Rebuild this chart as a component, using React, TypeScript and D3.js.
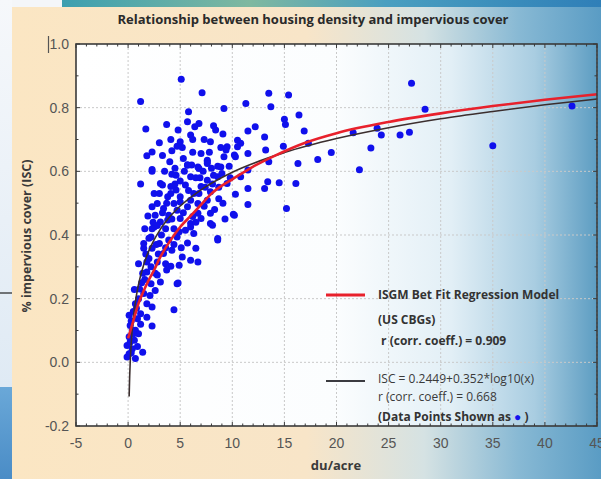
import React from "react";
import * as d3 from "d3";

const W = 601;
const H = 479;

const title = "Relationship between housing density and impervious cover";
const xLabel = "du/acre";
const yLabel = "% impervious cover (ISC)";

const xTicks = [-5, 0, 5, 10, 15, 20, 25, 30, 35, 40, 45];
const yTicks = [-0.2, 0.0, 0.2, 0.4, 0.6, 0.8, 1.0];

// census block groups: [du/acre, impervious fraction]
const points: [number, number][] = [
  [5.1, 0.889], [1.2, 0.819], [7.1, 0.847], [9.2, 0.797], [5.8, 0.787], [5.7, 0.756],
  [3.7, 0.747], [6.8, 0.75], [1.7, 0.733], [8.2, 0.743], [8.4, 0.73], [6.0, 0.714],
  [9.1, 0.717], [6.2, 0.7], [5.0, 0.693], [7.3, 0.7], [7.9, 0.693], [4.7, 0.679],
  [5.2, 0.675], [4.2, 0.665], [2.3, 0.661], [1.8, 0.649], [7.0, 0.656], [8.9, 0.675],
  [9.4, 0.667], [7.6, 0.635], [5.7, 0.621], [6.7, 0.614], [8.6, 0.616], [9.7, 0.616],
  [2.3, 0.606], [10.5, 0.698], [10.3, 0.646], [9.2, 0.646],
  [11.3, 0.813], [13.5, 0.845], [15.4, 0.84], [13.7, 0.803], [15.0, 0.764], [15.1, 0.747],
  [16.4, 0.777], [16.9, 0.727], [12.2, 0.74], [11.5, 0.727], [13.1, 0.708], [14.9, 0.679],
  [13.2, 0.667], [17.3, 0.688], [18.2, 0.637], [19.5, 0.659], [16.3, 0.625], [13.5, 0.63],
  [11.5, 0.656], [10.8, 0.688], [14.5, 0.564], [13.1, 0.546], [16.1, 0.562], [13.4, 0.567],
  [11.5, 0.546], [11.5, 0.496], [15.2, 0.483], [10.1, 0.465], [11.5, 0.604], [10.3, 0.528],
  [1.2, 0.56], [10.8, 0.583],
  [27.2, 0.877], [28.5, 0.795], [23.9, 0.735], [24.3, 0.714], [26.1, 0.714], [27.0, 0.723],
  [23.3, 0.673], [35.0, 0.68], [42.6, 0.805], [22.2, 0.605], [21.6, 0.721],
  [9.5, 0.677], [10.5, 0.677], [10.2, 0.651], [7.6, 0.63], [4.6, 0.588], [6.0, 0.583],
  [7.6, 0.572], [8.6, 0.583], [9.5, 0.562], [7.9, 0.536], [7.0, 0.552], [4.1, 0.552],
  [3.1, 0.562], [5.0, 0.52], [6.0, 0.509], [8.7, 0.514], [4.7, 0.478], [6.7, 0.468],
  [7.9, 0.436], [6.0, 0.425], [3.8, 0.447], [2.5, 0.425], [8.6, 0.389],
  [2.3, 0.6], [3.3, 0.557], [4.2, 0.591], [5.7, 0.619], [6.8, 0.609], [7.6, 0.625],
  [8.9, 0.614], [4.6, 0.541], [5.5, 0.557], [6.3, 0.53], [8.2, 0.588], [9.0, 0.593],
  [3.0, 0.53], [3.8, 0.52], [2.8, 0.499], [2.3, 0.489], [3.4, 0.483], [4.4, 0.499],
  [5.0, 0.504], [5.7, 0.489], [6.7, 0.499], [7.6, 0.509], [10.2, 0.462], [7.9, 0.468],
  [7.0, 0.452], [8.1, 0.431], [6.2, 0.458], [6.0, 0.436], [5.0, 0.452], [3.9, 0.462],
  [2.6, 0.462], [3.1, 0.441], [2.3, 0.42], [3.6, 0.42], [4.4, 0.42], [5.5, 0.415],
  [6.3, 0.405], [4.7, 0.394], [3.9, 0.384], [2.2, 0.394], [3.0, 0.373], [5.7, 0.375],
  [8.6, 0.384], [6.5, 0.358], [1.5, 0.358], [2.3, 0.358], [4.2, 0.352], [3.4, 0.342],
  [5.2, 0.331], [6.0, 0.321], [2.0, 0.326], [2.8, 0.315], [4.9, 0.305], [4.1, 0.302],
  [2.2, 0.3], [1.5, 0.373],
  [1.8, 0.315], [3.6, 0.31], [6.7, 0.315], [1.8, 0.284], [2.8, 0.274], [3.1, 0.252],
  [4.7, 0.247], [2.2, 0.247], [2.6, 0.226], [0.6, 0.229], [1.5, 0.216], [1.8, 0.184],
  [2.3, 0.174], [0.7, 0.184], [1.2, 0.153], [4.4, 0.165], [0.1, 0.148], [0.9, 0.137],
  [1.8, 0.142], [2.3, 0.114], [0.2, 0.116], [0.7, 0.101], [0.1, 0.08], [0.6, 0.069],
  [-0.1, 0.053], [0.4, 0.043], [1.4, 0.032], [0.1, 0.027], [-0.1, 0.017], [0.7, 0.012],
  [0.2, 0.064], [4.8, 0.249], [1.0, 0.2], [0.5, 0.16], [0.3, 0.13], [1.0, 0.09],
  [0.3, 0.03], [0.9, 0.05],
  [3.5, 0.6], [4.0, 0.63], [4.5, 0.61], [5.3, 0.64], [6.2, 0.66], [6.5, 0.58],
  [7.2, 0.6], [8.0, 0.61], [5.0, 0.57], [5.8, 0.54], [6.8, 0.53], [7.3, 0.49],
  [8.3, 0.48], [9.1, 0.5], [4.2, 0.45], [3.2, 0.4], [2.7, 0.37], [4.4, 0.37],
  [5.1, 0.36], [3.7, 0.29], [2.6, 0.28], [1.6, 0.26], [2.1, 0.21], [1.3, 0.25],
  [1.0, 0.31], [1.6, 0.42], [1.9, 0.46], [2.5, 0.53], [3.3, 0.65], [4.1, 0.7],
  [6.4, 0.74], [4.8, 0.73], [3.0, 0.69], [7.8, 0.66], [9.8, 0.58], [8.7, 0.55],
  [9.3, 0.45],
  [0.4, 0.1], [0.8, 0.17], [1.1, 0.23], [1.4, 0.28], [1.7, 0.34], [2.0, 0.39],
  [2.4, 0.44], [2.8, 0.43], [3.3, 0.47], [3.7, 0.5], [4.1, 0.53], [4.5, 0.56],
  [5.4, 0.6], [6.1, 0.62], [6.9, 0.58], [7.4, 0.55], [8.1, 0.56], [5.3, 0.47],
  [6.5, 0.44], [4.9, 0.41], [3.6, 0.36], [2.9, 0.34], [1.2, 0.12], [0.5, 0.09],
];

// ISGM best fit regression model (red)
const isgmCurve: [number, number][] = [
  [0, 0.075], [0.5, 0.13], [1, 0.185], [1.5, 0.225], [2, 0.26], [2.5, 0.29], [3, 0.325],
  [4, 0.38], [5, 0.425], [6, 0.46], [7, 0.495], [8, 0.53], [9, 0.555], [10, 0.575],
  [12, 0.615], [14, 0.648], [17, 0.69], [20, 0.72], [25, 0.755], [30, 0.782],
  [35, 0.805], [40, 0.825], [45, 0.842],
];

// ISC = 0.2449 + 0.352*log10(x) (dark)
const logFitCurve: [number, number][] = [
  [0.1, -0.107], [0.15, -0.045], [0.2, -0.001], [0.3, 0.061], [0.5, 0.139], [0.7, 0.19],
  [1, 0.245], [1.5, 0.307], [2, 0.351], [3, 0.413], [4, 0.457], [5, 0.491], [7, 0.542],
  [10, 0.597], [15, 0.659], [20, 0.703], [25, 0.737], [30, 0.765], [35, 0.788],
  [40, 0.809], [45, 0.827],
];

const legendRed = ["ISGM Bet Fit Regression Model", "(US CBGs)", " r (corr. coeff.) = 0.909"];
const legendDark = ["ISC = 0.2449+0.352*log10(x)", "r (corr. coeff.) = 0.668", "(Data Points Shown as "];

const plot = { left: 76, right: 597, top: 44, bottom: 426 };

export default function App() {
  const x = d3.scaleLinear().domain([-5, 45]).range([plot.left, plot.right]);
  const y = d3.scaleLinear().domain([-0.2, 1.0]).range([plot.bottom, plot.top]);
  const line = d3
    .line<[number, number]>()
    .x((d) => x(d[0]))
    .y((d) => y(d[1]))
    .curve(d3.curveMonotoneX);

  const xMinor = d3.range(-5, 45.01, 1);
  const yMinor = d3.range(-0.2, 1.001, 0.1);
  const sans = "'Open Sans', 'Liberation Sans', sans-serif";
  const tickFont = "'Liberation Sans', Arial, sans-serif";

  return (
    <div style={{ position: "fixed", left: 0, top: 0 }}>
      <svg width={W} height={H} viewBox={`0 0 ${W} ${H}`}>
        <defs>
          <linearGradient id="panel" x1="0" x2="1" y1="0" y2="0">
            <stop offset="0%" stopColor="#fbe6c3" />
            <stop offset="50%" stopColor="#f8e5c8" />
            <stop offset="70%" stopColor="#d5e2e3" />
            <stop offset="86%" stopColor="#88b9d4" />
            <stop offset="100%" stopColor="#5a9cc4" />
          </linearGradient>
          <linearGradient id="plotbg" x1="0" x2="1" y1="0" y2="0">
            <stop offset="0%" stopColor="#ffffff" />
            <stop offset="50%" stopColor="#fbfdfe" />
            <stop offset="72%" stopColor="#e2eff6" />
            <stop offset="88%" stopColor="#a9cde1" />
            <stop offset="100%" stopColor="#5d9dc2" />
          </linearGradient>
          <linearGradient id="strip" x1="0" x2="1" y1="0" y2="0">
            <stop offset="0%" stopColor="#3c9fb0" />
            <stop offset="35%" stopColor="#7fb8a0" />
            <stop offset="60%" stopColor="#4a9fc0" />
            <stop offset="100%" stopColor="#2f7fb8" />
          </linearGradient>
          <linearGradient id="leftTop" x1="0" x2="0" y1="0" y2="1">
            <stop offset="0%" stopColor="#f6f8fb" />
            <stop offset="100%" stopColor="#dfeaf4" />
          </linearGradient>
          <linearGradient id="leftBottom" x1="0" x2="0" y1="0" y2="1">
            <stop offset="0%" stopColor="#6aa8d8" />
            <stop offset="100%" stopColor="#4a8cc6" />
          </linearGradient>
        </defs>

        <rect x={0} y={0} width={W} height={H} fill="#f4f6f9" />
        <rect x={12} y={7} width={W - 12} height={H - 7} fill="url(#panel)" />
        <rect x={62} y={0} width={W - 62} height={7} fill="url(#strip)" />
        <rect x={0} y={0} width={12} height={387} fill="url(#leftTop)" />
        <rect x={0} y={387} width={12} height={H - 387} fill="url(#leftBottom)" />
        <line x1={0} x2={12} y1={293} y2={293} stroke="#222" strokeWidth={1.2} />

        <text x={313} y={24} textAnchor="middle" fontFamily={sans} fontWeight={700} fontSize={13} fill="#2a2a2a">
          {title}
        </text>

        <rect
          x={plot.left}
          y={plot.top}
          width={plot.right - plot.left}
          height={plot.bottom - plot.top}
          fill="url(#plotbg)"
        />

        {/* grid */}
        {xTicks.slice(1).map((t) => (
          <line key={`gx${t}`} x1={x(t)} x2={x(t)} y1={plot.top} y2={plot.bottom} stroke="#c9c9c9" strokeWidth={1} strokeDasharray="2,2" />
        ))}
        {yTicks.slice(1, -1).map((t) => (
          <line key={`gy${t}`} x1={plot.left} x2={plot.right} y1={y(t)} y2={y(t)} stroke="#c9c9c9" strokeWidth={1} strokeDasharray="2,2" />
        ))}

        {/* points */}
        {points.map((d, i) => (
          <circle key={i} cx={x(d[0])} cy={y(d[1])} r={3.5} fill="#1010ec" />
        ))}

        {/* fitted curves */}
        <path d={line(logFitCurve) ?? ""} fill="none" stroke="#3b2e2e" strokeWidth={1.6} />
        <path d={line(isgmCurve) ?? ""} fill="none" stroke="#e8212c" strokeWidth={2.6} />

        {/* frame and ticks */}
        <rect
          x={plot.left}
          y={plot.top}
          width={plot.right - plot.left}
          height={plot.bottom - plot.top}
          fill="none"
          stroke="#3a3a3a"
          strokeWidth={1.6}
        />
        {xMinor.map((t) => {
          const major = Math.abs(t % 5) < 1e-6;
          const len = major ? 4 : 2.5;
          return (
            <g key={`tx${t}`} stroke="#3a3a3a" strokeWidth={1}>
              <line x1={x(t)} x2={x(t)} y1={plot.bottom} y2={plot.bottom - len} />
              <line x1={x(t)} x2={x(t)} y1={plot.top} y2={plot.top + len} />
            </g>
          );
        })}
        {yMinor.map((t, i) => {
          const len = i % 2 === 0 ? 4 : 2.5;
          return (
            <g key={`ty${i}`} stroke="#3a3a3a" strokeWidth={1}>
              <line x1={plot.left} x2={plot.left + len} y1={y(t)} y2={y(t)} />
              <line x1={plot.right} x2={plot.right - len} y1={y(t)} y2={y(t)} />
            </g>
          );
        })}

        {/* tick labels */}
        {xTicks.map((t) => (
          <text key={`lx${t}`} x={x(t)} y={448} textAnchor="middle" fontFamily={tickFont} fontSize={14} fill="#555">
            {t}
          </text>
        ))}
        {yTicks.map((t) => (
          <text key={`ly${t}`} x={69} y={y(t) + 5} textAnchor="end" fontFamily={tickFont} fontSize={14} fill="#555">
            {t.toFixed(1)}
          </text>
        ))}
        <line x1={48.5} x2={48.5} y1={36} y2={53} stroke="#555" strokeWidth={1.2} />

        <text x={336} y={470} textAnchor="middle" fontFamily={sans} fontWeight={700} fontSize={13} fill="#3a3a3a">
          {xLabel}
        </text>
        <text
          transform={`translate(31, 236) rotate(-90)`}
          textAnchor="middle"
          fontFamily={sans}
          fontWeight={700}
          fontSize={12.5}
          fill="#3a3a3a"
        >
          {yLabel}
        </text>

        {/* legend */}
        <line x1={326} x2={365} y1={295} y2={295} stroke="#e8212c" strokeWidth={3} />
        {legendRed.map((s, i) => (
          <text key={`lr${i}`} x={378} y={[299, 324, 345][i]} fontFamily={sans} fontWeight={700} fontSize={12} fill="#333" style={{ whiteSpace: "pre" }}>
            {s}
          </text>
        ))}
        <line x1={326} x2={365} y1={381} y2={381} stroke="#3b3b40" strokeWidth={2} />
        <text x={378} y={383} fontFamily={sans} fontSize={12} fill="#3a3a3a">
          {legendDark[0]}
        </text>
        <text x={378} y={401} fontFamily={sans} fontSize={12} fill="#3a3a3a">
          {legendDark[1]}
        </text>
        <text x={378} y={421} fontFamily={sans} fontWeight={700} fontSize={12} fill="#333" style={{ whiteSpace: "pre" }}>
          {legendDark[2]}
          <tspan fill="#1212ee">●</tspan>
          <tspan> )</tspan>
        </text>
      </svg>
    </div>
  );
}
